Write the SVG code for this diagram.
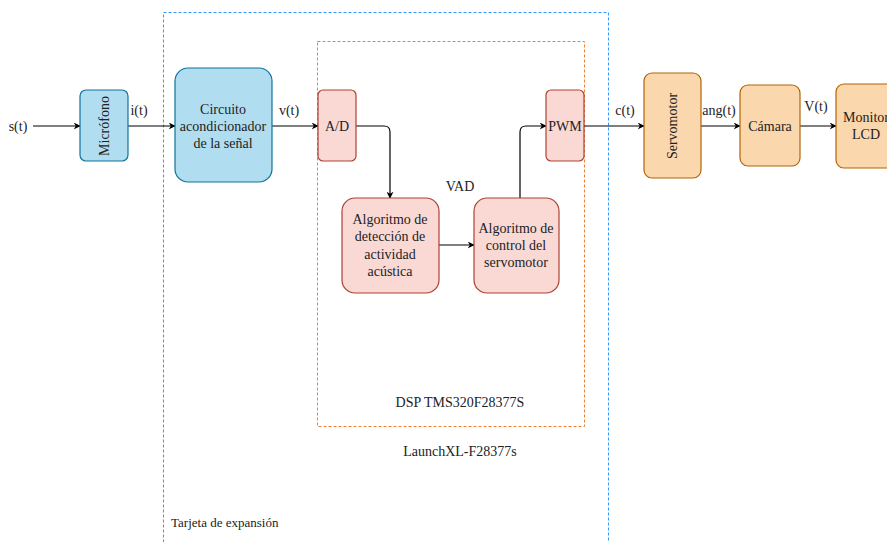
<svg xmlns="http://www.w3.org/2000/svg" width="887" height="542" viewBox="0 0 887 542" font-family="'Liberation Serif', serif">
<defs>
<marker id="ah" viewBox="0 0 10 10" refX="9" refY="5" markerWidth="7" markerHeight="7" orient="auto" markerUnits="userSpaceOnUse"><path d="M0,0 L10,5 L0,10 L3,5 Z" fill="#000"/></marker>
<style>
text{font-family:'Liberation Serif',serif;font-size:14px;fill:#222;text-anchor:middle}
.blue{fill:#b1ddf0;stroke:#10739e;stroke-width:1.2}
.red{fill:#fad9d5;stroke:#ae4132;stroke-width:1.2}
.org{fill:#fad7ac;stroke:#b46504;stroke-width:1.2}
.conn{fill:none;stroke:#000;stroke-width:1.2;marker-end:url(#ah)}
</style>
</defs>
<rect width="887" height="542" fill="#fff"/>
<g id="tarjeta">
<rect x="163.5" y="12.5" width="445" height="540" fill="none" stroke="#3399ff" stroke-width="1" stroke-dasharray="3,2"/>
<text x="171" y="527" style="text-anchor:start;font-size:13px">Tarjeta de expansión</text>
</g>
<g id="dsp">
<rect x="317.5" y="41.5" width="267" height="385" fill="none" stroke="#f08030" stroke-width="1" stroke-dasharray="3,2"/>
<text x="460" y="407">DSP TMS320F28377S</text>
</g>
<g id="launch"><text x="460" y="456">LaunchXL-F28377s</text></g>
<g id="vad"><text x="460" y="191">VAD</text></g>
<g id="connectors">
<line class="conn" x1="33" y1="126" x2="80" y2="126"/>
<line class="conn" x1="128" y1="126" x2="175" y2="126"/>
<line class="conn" x1="272" y1="126" x2="318" y2="126"/>
<path class="conn" d="M356,126 H384 Q390,126 390,132 V198"/>
<line class="conn" x1="439" y1="245" x2="474" y2="245"/>
<path class="conn" d="M520,198 V132 Q520,126 526,126 H546"/>
<line class="conn" x1="584" y1="126" x2="644" y2="126"/>
<line class="conn" x1="701" y1="126" x2="740" y2="126"/>
<line class="conn" x1="800" y1="126" x2="836" y2="126"/>
<text x="18" y="131">s(t)</text>
<text x="139" y="115">i(t)</text>
<text x="289" y="115">v(t)</text>
<text x="625" y="115">c(t)</text>
<text x="719" y="115">ang(t)</text>
<text x="816" y="111">V(t)</text>
</g>
<g id="microfono">
<rect class="blue" x="80" y="90" width="48" height="71" rx="6"/>
<text transform="translate(109,126) rotate(-90)">Micrófono</text>
</g>
<g id="circuito">
<rect class="blue" x="175" y="68" width="97" height="114" rx="13"/>
<text x="223" y="114">Circuito</text>
<text x="223" y="131">acondicionador</text>
<text x="223" y="148">de la señal</text>
</g>
<g id="ad">
<rect class="red" x="318" y="90" width="38" height="71" rx="5"/>
<text x="337" y="131">A/D</text>
</g>
<g id="pwm">
<rect class="red" x="546" y="90" width="38" height="71" rx="5"/>
<text x="565" y="131">PWM</text>
</g>
<g id="deteccion">
<rect class="red" x="342" y="198" width="97" height="95" rx="13"/>
<text x="390" y="224">Algoritmo de</text>
<text x="390" y="241">detección de</text>
<text x="390" y="259">actividad</text>
<text x="390" y="276">acústica</text>
</g>
<g id="control">
<rect class="red" x="474" y="198" width="85" height="95" rx="13"/>
<text x="516" y="233">Algoritmo de</text>
<text x="516" y="250">control del</text>
<text x="516" y="267">servomotor</text>
</g>
<g id="servomotor">
<rect class="org" x="644" y="73" width="57" height="105" rx="8"/>
<text transform="translate(677,126) rotate(-90)">Servomotor</text>
</g>
<g id="camara">
<rect class="org" x="740" y="85" width="60" height="81" rx="8"/>
<text x="770" y="131">Cámara</text>
</g>
<g id="monitor">
<rect class="org" x="836" y="84" width="60" height="84" rx="8"/>
<text x="866" y="122">Monitor</text>
<text x="866" y="139">LCD</text>
</g>
</svg>
